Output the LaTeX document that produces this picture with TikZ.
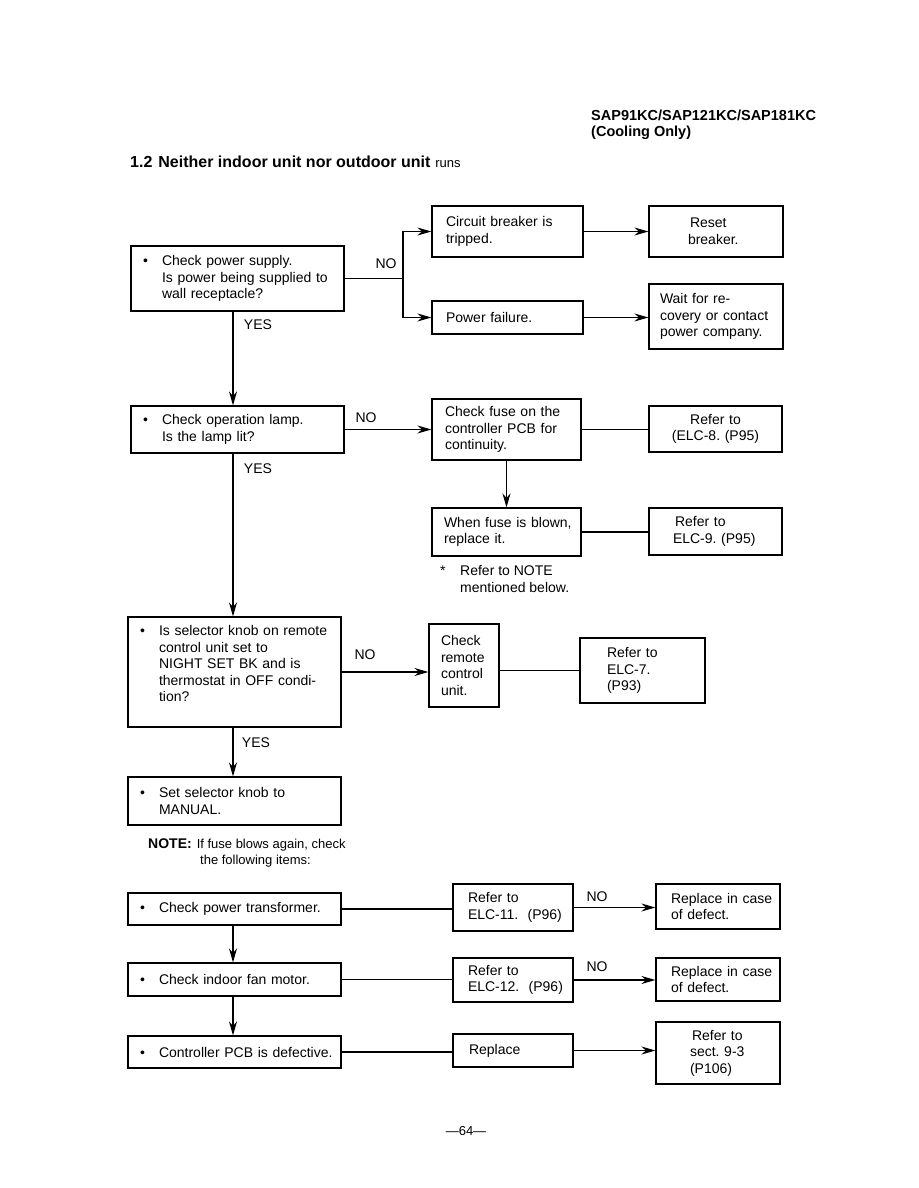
\documentclass[tikz,border=0pt]{standalone}
\usepackage{fontspec}
\setmainfont{Liberation Sans}
\usetikzlibrary{arrows.meta}
\frenchspacing
\newcommand{\bulitem}{\makebox[19pt][l]{\textbullet}}
\newcommand{\bulind}{\hspace*{19pt}}
\tikzset{
  box/.style={draw, line width=1.2pt, align=left, inner ysep=2pt, font=\fontsize{14}{16.5}\selectfont},
  lbl/.style={font=\fontsize{14}{16.5}\selectfont, inner sep=0pt},
  link/.style={line width=1.2pt},
}
\begin{document}
\begin{tikzpicture}[x=1pt, y=-1pt, >={Stealth[length=14pt,width=8pt]}]
  \useasboundingbox[fill=white] (0,0) rectangle (918,1188);
  % page heading
  \node[anchor=west, align=left, inner sep=0pt, font=\bfseries\fontsize{14.5}{16}\selectfont] (model) at (591,125) {SAP91KC/SAP121KC/SAP181KC\\(Cooling Only)};
  \node[anchor=west, inner sep=0pt] (heading) at (130,162) {{\bfseries\fontsize{16}{18}\selectfont 1.2\hspace{6pt}Neither indoor unit nor outdoor unit}\hspace{5pt}{\fontsize{13}{16}\selectfont runs}};
  % power supply
  \node[box, text width=189pt, inner xsep=12pt, minimum height=65pt] (supply) at (237.5,278.5) {\bulitem Check power supply.\\ \bulind Is power being supplied to\\ \bulind wall receptacle?};
  \node[box, text width=123pt, inner xsep=14pt, minimum height=51pt] (breaker) at (507.5,231.5) {\mbox{Circuit breaker is}\\tripped.};
  \node[box, text width=123pt, inner xsep=14pt, minimum height=33pt] (failure) at (507.5,317.5) {Power failure.};
  \node[box, text width=56pt, inner xsep=39pt, minimum height=51pt] (reset) at (716,231.5) {\hspace*{2pt}Reset\\breaker.};
  \node[box, text width=112pt, inner xsep=11pt, minimum height=65pt] (wait) at (716,316.5) {Wait for re-\\\mbox{covery or contact}\\\mbox{power company.}};
  % operation lamp
  \node[box, text width=189pt, inner xsep=12pt, minimum height=47pt] (lamp) at (237.5,429.5) {\bulitem Check operation lamp.\\ \bulind Is the lamp lit?};
  \node[box, text width=123pt, inner xsep=13pt, minimum height=61pt] (fuse) at (506.5,429.5) {\mbox{Check fuse on the}\\\mbox{controller PCB for}\\continuity.};
  \node[box, text width=125pt, inner xsep=4pt, minimum height=46pt, align=center] (elc8) at (715.5,429) {Refer to\\(ELC-8. (P95)};
  \node[box, text width=125pt, inner xsep=12pt, minimum height=48pt] (blown) at (506.5,532) {\mbox{When fuse is blown,}\\replace it.};
  \node[box, text width=85pt, inner xsep=24pt, minimum height=47pt] (elc9) at (715.5,531.5) {\hspace*{2pt}Refer to\\\mbox{ELC-9. (P95)}};
  \node[lbl, anchor=west, align=left] (fusenote) at (440,579) {\makebox[20pt][l]{*}Refer to NOTE\\ \hspace*{20pt}mentioned below.};
  % selector knob
  \node[box, text width=189pt, inner xsep=12pt, minimum height=110pt] (selector) at (234.5,672) {\bulitem\mbox{Is selector knob on remote}\\ \bulind control unit set to\\ \bulind NIGHT SET BK and is\\ \bulind\mbox{thermostat in OFF condi-}\\ \bulind tion?\\ ~};
  \node[box, text width=46pt, inner xsep=12pt, minimum height=83pt] (remote) at (464,665.5) {Check\\remote\\\mbox{control}\\unit.};
  \node[box, text width=71pt, inner xsep=27pt, minimum height=65pt] (elc7) at (642.5,670.5) {Refer to\\ELC-7.\\(P93)};
  \node[box, text width=189pt, inner xsep=12pt, minimum height=48pt] (manual) at (234.5,801) {\bulitem Set selector knob to\\ \bulind MANUAL.};
  \node[lbl, anchor=west, align=left] (note) at (148,853) {\textbf{NOTE:}\hspace{5pt}{\fontsize{13}{16.5}\selectfont If fuse blows again, check}\\ \hspace*{52pt}{\fontsize{13}{16.5}\selectfont the following items:}};
  % note items
  \node[box, text width=189pt, inner xsep=12pt, minimum height=32pt] (transformer) at (234.5,909) {\bulitem Check power transformer.};
  \node[box, text width=90pt, inner xsep=15pt, minimum height=47pt] (elc11) at (513,907.5) {Refer to\\\mbox{ELC-11.~~(P96)}};
  \node[box, text width=94pt, inner xsep=15pt, minimum height=45pt] (defect1) at (718,906.5) {\mbox{Replace in case}\\of defect.};
  \node[box, text width=189pt, inner xsep=12pt, minimum height=33pt] (fanmotor) at (234.5,979.5) {\bulitem Check indoor fan motor.};
  \node[box, text width=90pt, inner xsep=15pt, minimum height=44pt] (elc12) at (513,980) {Refer to\\\mbox{ELC-12.~~(P96)}};
  \node[box, text width=94pt, inner xsep=15pt, minimum height=43pt] (defect2) at (718,979.5) {\mbox{Replace in case}\\of defect.};
  \node[box, text width=189pt, inner xsep=12pt, minimum height=32pt] (pcb) at (234.5,1052) {\bulitem\mbox{Controller PCB is defective.}};
  \node[box, text width=88pt, inner xsep=16pt, minimum height=33pt] (replace) at (513,1050.5) {Replace};
  \node[box, text width=56pt, inner xsep=34pt, minimum height=62pt] (sect) at (718,1053) {\hspace*{2pt}Refer to\\\mbox{sect. 9-3}\\(P106)};
  % branch labels
  \node[lbl] (no1) at (386,264) {NO};
  \node[lbl] (yes1) at (258,325) {YES};
  \node[lbl] (no2) at (366,418) {NO};
  \node[lbl] (yes2) at (258,469) {YES};
  \node[lbl] (no3) at (365,655) {NO};
  \node[lbl] (yes3) at (256,743) {YES};
  \node[lbl] (no4) at (597,897) {NO};
  \node[lbl] (no5) at (597,967) {NO};
  \node[lbl, font=\fontsize{13}{16}\selectfont] (pagenum) at (466,1131) {---64---};
  % connectors
  \coordinate (split) at (403,278.5);
  \coordinate (spine) at (233,0);
  \draw[link] (supply.east) -- (split);
  \draw[link,->] (split) |- (breaker.west);
  \draw[link,->] (split) |- (failure.west);
  \draw[link,->] (breaker.east) -- (reset.west);
  \draw[link,->] (failure.east) -- (failure.east -| wait.west);
  \draw[link,->] (supply.south -| spine) -- (lamp.north -| spine);
  \draw[link,->] (lamp.east) -- (fuse.west);
  \draw[link] (fuse.east) -- (fuse.east -| elc8.west);
  \draw[link,->] (fuse.south) -- (blown.north);
  \draw[link] (blown.east) -- (blown.east -| elc9.west);
  \draw[link,->] (lamp.south -| spine) -- (selector.north -| spine);
  \draw[link,->] (selector.east) -- (selector.east -| remote.west);
  \draw[link] (remote.east |- elc7.west) -- (elc7.west);
  \draw[link,->] (selector.south -| spine) -- (manual.north -| spine);
  \draw[link] (transformer.east) -- (transformer.east -| elc11.west);
  \draw[link,->] (elc11.east) -- (elc11.east -| defect1.west);
  \draw[link,->] (transformer.south -| spine) -- (fanmotor.north -| spine);
  \draw[link] (fanmotor.east) -- (fanmotor.east -| elc12.west);
  \draw[link,->] (elc12.east) -- (elc12.east -| defect2.west);
  \draw[link,->] (fanmotor.south -| spine) -- (pcb.north -| spine);
  \draw[link] (pcb.east) -- (pcb.east -| replace.west);
  \draw[link,->] (replace.east) -- (replace.east -| sect.west);
\end{tikzpicture}
\end{document}
